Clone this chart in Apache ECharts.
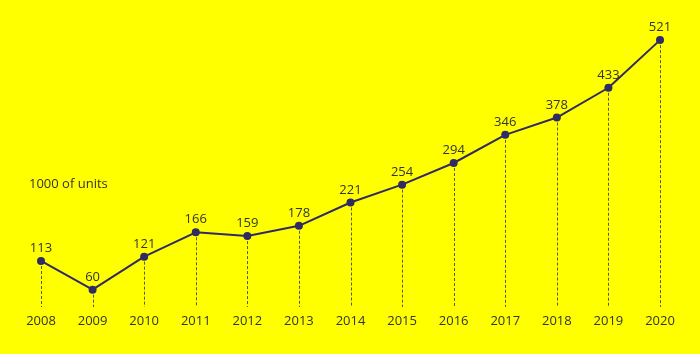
<!DOCTYPE html>
<html><head><meta charset="utf-8">
<script src="https://cdn.jsdelivr.net/npm/echarts@6/dist/echarts.min.js"></script>
<style>html,body{margin:0;padding:0;background:#ffff00}#c{width:700px;height:354px}</style>
</head><body><div id="c"></div>
<script>
const years = ['2008','2009','2010','2011','2012','2013','2014','2015','2016','2017','2018','2019','2020'];
const units = [113,60,121,166,159,178,221,254,294,346,378,433,521];
const unitLabel = '1000 of units';
const yMin = 28, yMax = 560;

const chart = echarts.init(document.getElementById('c'), null, {renderer:'canvas'});
const font = "'Open Sans','Noto Sans',sans-serif";
chart.setOption({
  backgroundColor:'#ffff00',
  animation:false,
  grid:{left:41,right:40,top:19,bottom:47,containLabel:false},
  xAxis:{type:'category',data:years,boundaryGap:false,
    axisLine:{show:false},axisTick:{show:false},splitLine:{show:false},
    axisLabel:{color:'#333',fontSize:13,fontFamily:font,margin:8}},
  yAxis:{type:'value',min:yMin,max:yMax,show:false},
  graphic:[{type:'text',left:29,top:178,style:{text:unitLabel,fill:'#333',fontSize:13,fontFamily:font}}],
  series:[
    {type:'custom',data:units.map((v,i)=>[i,v]),z:1,
     renderItem:function(params,api){
       const p1=api.coord([api.value(0),api.value(1)]);
       const p2=api.coord([api.value(0),yMin]);
       return {type:'line',shape:{x1:Math.round(p1[0])+0.5,y1:p1[1],x2:Math.round(p2[0])+0.5,y2:p2[1]},
         style:{stroke:'#555',lineWidth:1,lineDash:[3,2]}};
     }},
    {type:'line',data:units,z:3,symbol:'circle',symbolSize:8,
     lineStyle:{color:'#302b63',width:2},itemStyle:{color:'#302b63'},
     label:{show:true,position:'top',distance:2,color:'#333',fontSize:13,fontFamily:font}}
  ]
});
</script></body></html>
